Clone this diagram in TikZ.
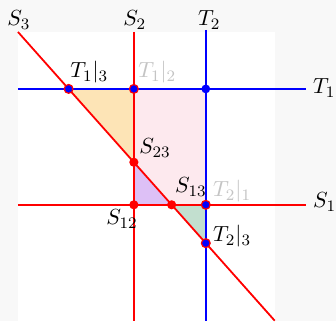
\documentclass[tikz,border=0pt]{standalone}
\usetikzlibrary{positioning}
\definecolor{pagegray}{HTML}{F8F8F8}
\definecolor{fillorange}{HTML}{FDE4B6}
\definecolor{fillpink}{HTML}{FDE9EE}
\definecolor{fillpurple}{HTML}{DDC0F6}
\definecolor{fillgreen}{HTML}{C2DFCF}
\definecolor{lblgray}{HTML}{C4C4C4}
\begin{document}
\begin{tikzpicture}[
  x=0.5pt, y=-0.5pt,
  sline/.style={red, line width=0.9pt},
  tline/.style={blue, line width=0.9pt},
  rdot/.style={circle, fill=red, inner sep=0pt, minimum size=4.6pt},
  bdot/.style={circle, fill=blue, draw=red, line width=0.6pt, inner sep=0pt, minimum size=4.4pt},
  tdot/.style={circle, fill=blue, inner sep=0pt, minimum size=4.4pt},
  lbl/.style={inner sep=0pt, anchor=base west, font=\fontsize{11}{13}\selectfont},
  glbl/.style={lbl, text=lblgray},
]
  % page and drawing area
  \fill[pagegray] (0,0) rectangle (336,321);
  \fill[white] (18,32) rectangle (275,321);

  % line ends
  \coordinate (s3a) at (18,32);
  \coordinate (s3b) at (275,321);
  \coordinate (s2a) at (134,32);
  \coordinate (s2b) at (134,321);
  \coordinate (t2a) at (206,30);
  \coordinate (t2b) at (206,321);
  \coordinate (t1a) at (18,89);
  \coordinate (t1b) at (306,89);
  \coordinate (s1a) at (18,205);
  \coordinate (s1b) at (306,205);

  % intersection points
  \coordinate (t13) at (68.7,89);
  \coordinate (t12) at (134,89);
  \coordinate (tt) at (206,89);
  \coordinate (s23) at (134,162.4);
  \coordinate (s12) at (134,205);
  \coordinate (s13) at (171.8,205);
  \coordinate (t21) at (206,205);
  \coordinate (t23) at (206,243.4);

  % regions
  \fill[fillpink] (t12) -- (tt) -- (t21) -- (s12) -- cycle;
  \fill[fillorange] (t13) -- (t12) -- (s23) -- cycle;
  \fill[fillpurple] (s23) -- (s12) -- (s13) -- cycle;
  \fill[fillgreen] (s13) -- (t21) -- (t23) -- cycle;

  % lines
  \draw[tline] (t1a) -- (t1b);
  \draw[tline] (t2a) -- (t2b);
  \draw[sline] (s1a) -- (s1b);
  \draw[sline] (s2a) -- (s2b);
  \draw[sline] (s3a) -- (s3b);

  % points
  \node[bdot] (d13) at (t13) {};
  \node[bdot] (d12) at (t12) {};
  \node[tdot] (dtt) at (tt) {};
  \node[rdot] (d23) at (s23) {};
  \node[rdot] (e12) at (s12) {};
  \node[rdot] (e13) at (s13) {};
  \node[bdot] (d21) at (t21) {};
  \node[bdot] (d23b) at (t23) {};

  % labels
  \node[lbl] (lS3) at (7,26) {$S_3$};
  \node[lbl] (lS2) at (123,26) {$S_2$};
  \node[lbl] (lT2) at (198,26) {$T_2$};
  \node[lbl] (lT1) at (313,94) {$T_1$};
  \node[lbl] (lS1) at (313,208) {$S_1$};
  \node[lbl] (lT13) at (70,78) {$T_1|_3$};
  \node[glbl] (lT12) at (138,78) {$T_1|_2$};
  \node[lbl] (lS23) at (139,154) {$S_{23}$};
  \node[lbl] (lS13) at (175,193) {$S_{13}$};
  \node[glbl] (lT21) at (213,197) {$T_2|_1$};
  \node[lbl] (lS12) at (106,225) {$S_{12}$};
  \node[lbl] (lT23) at (213,242) {$T_2|_3$};
\end{tikzpicture}
\end{document}
